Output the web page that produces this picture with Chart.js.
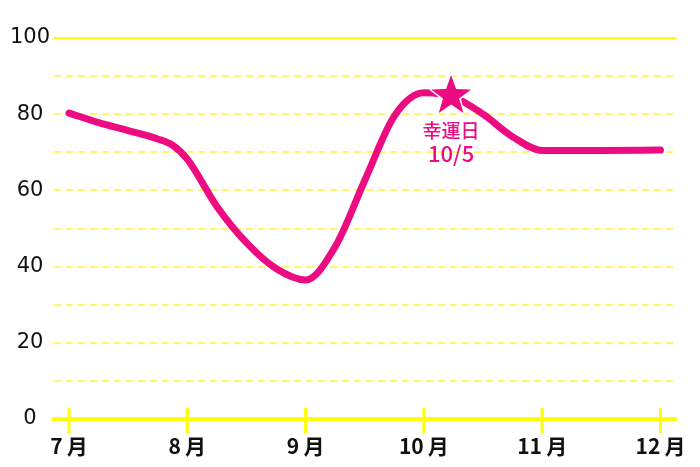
<!DOCTYPE html>
<html>
<head>
<meta charset="utf-8">
<script src="https://cdn.jsdelivr.net/npm/chart.js@4"></script>
<style>
  html, body { margin: 0; padding: 0; background: #fff; }
  #wrap { width: 700px; height: 467px; }
</style>
</head>
<body>
<div id="wrap"><canvas id="fortune"></canvas></div>
<script>
// month ticks
var monthIdx = [0, 1, 2, 3, 4, 5];
var monthLabels = ['7\u2009月', '8\u2009月', '9\u2009月', '10\u2009月', '11\u2009月', '12\u2009月'];

// curve (x in months from July)
var curveX = [0, 0.25, 0.5, 0.75, 0.875, 1, 1.25, 1.5, 1.75, 2, 2.25, 2.5, 2.75, 3, 3.25, 3.5, 3.75, 4, 4.5, 5];
var curveY = [80.3, 77.8, 75.7, 73.5, 71.9, 68.2, 55.8, 46.3, 39.5, 36.5, 45.2, 62.6, 79.5, 85.6, 84.5, 80, 74.1, 70.5, 70.5, 70.6];

// lucky day marker
var luckyX = [3.23];
var luckyY = [84.8];
var luckyText = ['幸運日', '10/5'];

var pink = '#ec0b80';
var yellow = '#ffff00';
var paleYellow = '#fff46a';

var starPlugin = {
  id: 'luckyStar',
  afterDatasetsDraw: function(chart) {
    var ctx = chart.ctx;
    var xs = chart.scales.x, ys = chart.scales.y;
    var cx = xs.getPixelForValue(luckyX[0]);
    var cy = ys.getPixelForValue(luckyY[0]);
    var R = 21, r = 8.5;
    ctx.save();
    ctx.beginPath();
    for (var i = 0; i < 10; i++) {
      var rad = (i % 2 == 0) ? R : r;
      var a = -Math.PI / 2 + i * Math.PI / 5;
      var px = cx + rad * Math.cos(a), py = cy + rad * Math.sin(a);
      if (i == 0) ctx.moveTo(px, py); else ctx.lineTo(px, py);
    }
    ctx.closePath();
    ctx.lineJoin = 'round';
    ctx.lineWidth = 3;
    ctx.strokeStyle = '#fff';
    ctx.stroke();
    ctx.fillStyle = pink;
    ctx.fill();

    ctx.fillStyle = pink;
    ctx.textAlign = 'center';
    ctx.textBaseline = 'middle';
    ctx.font = '500 19px "Noto Sans CJK JP"';
    ctx.fillText(luckyText[0], cx, cy + 35);
    ctx.font = '500 22px "Noto Sans CJK JP"';
    ctx.fillText(luckyText[1], cx, cy + 58);
    ctx.restore();
  }
};

// little vertical marks crossing the bottom axis
var tickMarks = {
  id: 'tickMarks',
  afterDraw: function(chart) {
    var ctx = chart.ctx;
    var xs = chart.scales.x;
    var base = chart.chartArea.bottom;
    ctx.save();
    ctx.strokeStyle = yellow;
    ctx.lineWidth = 3;
    xs.ticks.forEach(function(t) {
      var px = xs.getPixelForValue(t.value);
      ctx.beginPath();
      ctx.moveTo(px, base - 11);
      ctx.lineTo(px, base + 14);
      ctx.stroke();
    });
    ctx.restore();
  }
};

var ctx = document.getElementById('fortune').getContext('2d');
var chart = new Chart(ctx, {
  type: 'line',
  data: {
    datasets: [{
      data: curveX.map(function(x, i) { return { x: x, y: curveY[i] }; }),
      borderColor: pink,
      borderWidth: 7,
      borderCapStyle: 'round',
      borderJoinStyle: 'round',
      pointRadius: 0,
      cubicInterpolationMode: 'monotone',
      fill: false
    }]
  },
  options: {
    responsive: true,
    maintainAspectRatio: false,
    animation: false,
    layout: { padding: { top: 38, right: 21, bottom: 0, left: 6 } },
    plugins: { legend: { display: false }, tooltip: { enabled: false } },
    scales: {
      x: {
        type: 'linear',
        min: -0.126,
        max: 5.134,
        afterBuildTicks: function(scale) {
          scale.ticks = monthIdx.map(function(v) { return { value: v }; });
        },
        afterFit: function(scale) { scale.height = 48; },
        grid: { display: true, drawOnChartArea: false, drawTicks: false },
        border: { display: true, color: yellow, width: 4 },
        ticks: {
          padding: 14,
          maxRotation: 0,
          color: '#111',
          font: { family: '"Noto Sans CJK JP"', size: 21, weight: 'bold' },
          callback: function(v) { return monthLabels[v]; }
        }
      },
      y: {
        min: 0,
        max: 100,
        ticks: {
          stepSize: 20,
          padding: 4,
          crossAlign: 'center',
          color: '#111',
          font: { family: '"DejaVu Sans"', size: 21 }
        },
        border: { display: false },
        grid: {
          drawTicks: false,
          lineWidth: 2,
          color: function(c) { return c.tick && c.tick.value == 100 ? yellow : 'rgba(0,0,0,0)'; }
        }
      },
      y2: {
        position: 'right',
        min: 0,
        max: 100,
        ticks: { display: false, stepSize: 10 },
        border: { display: false, dash: [7, 5] },
        grid: {
          drawTicks: false,
          lineWidth: 2,
          color: function(c) {
            var v = c.tick && c.tick.value;
            return (v == 0 || v == 100) ? 'rgba(0,0,0,0)' : paleYellow;
          }
        }
      }
    }
  },
  plugins: [starPlugin, tickMarks]
});
</script>
</body>
</html>
